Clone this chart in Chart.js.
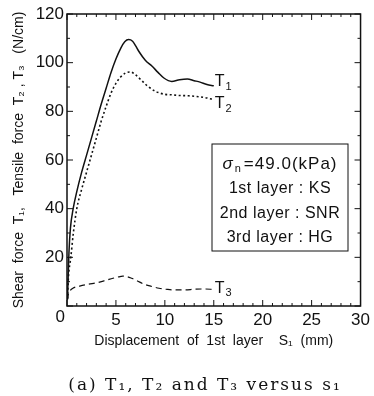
<!DOCTYPE html>
<html lang="en">
<head>
  <meta charset="UTF-8" />
  <title>T1, T2 and T3 versus s1</title>
  <script src="https://cdn.jsdelivr.net/npm/chart.js"></script>
  <style>
    body { margin: 0; background: white; }
    canvas { display: block; }
  </style>
</head>
<body>
  <canvas id="chart" width="374" height="396"></canvas>
  <script>
    // displacement S1 (mm) and force (N/cm)
    const t1X = [0.05, 0.12, 0.2, 0.35, 0.63, 1.0, 1.5, 2.0, 2.5, 3.0, 3.5, 4.0, 4.5, 5.0, 5.5, 5.9, 6.3, 6.7, 7.0, 7.35, 8.0, 8.7, 9.3, 9.9, 10.7, 11.5, 12.3, 13.0, 13.6, 14.3, 15.0];
    const t1Y = [3, 12, 22, 32, 40, 47, 55, 62, 69, 76, 83, 89.5, 96, 101.5, 106, 108.6, 109.5, 108.8, 107, 104.6, 101, 98.5, 96, 93.7, 92.3, 93, 93.3, 92.6, 92, 91, 90.5];
    const t2X = [0.05, 0.15, 0.39, 0.65, 1.0, 1.5, 2.0, 2.5, 3.0, 3.5, 4.0, 4.5, 5.0, 5.5, 6.0, 6.5, 7.0, 7.5, 8.2, 9.05, 10.0, 10.7, 11.5, 12.4, 13.5, 14.3, 15.0];
    const t2Y = [3, 12, 20, 30, 40, 48, 55, 62, 69, 76, 82, 87.5, 91.5, 94.2, 95.8, 96.2, 95, 93.2, 90.5, 88.2, 87, 86.8, 86.5, 86.4, 86, 85.5, 84.8];
    const t3X = [0.05, 0.15, 0.3, 0.6, 1.3, 2.2, 3.0, 4.0, 4.7, 5.3, 5.7, 6.2, 6.6, 7.2, 7.8, 8.6, 9.4, 10.3, 11.1, 12.1, 13.0, 14.0, 15.0];
    const t3Y = [2.5, 5, 6.2, 7.3, 8.2, 9, 9.5, 10.6, 11.4, 12, 12.3, 12, 11.4, 10.3, 9.1, 8.1, 7.3, 6.8, 6.6, 6.6, 6.9, 7, 6.8];

    const seriesNames = ['T1', 'T2', 'T3'];
    const boxLines = ['1st layer : KS', '2nd layer : SNR', '3rd layer : HG'];
    const xTicks = [0, 5, 10, 15, 20, 25, 30];
    const yTicks = [0, 20, 40, 60, 80, 100, 120];

    const pts = (xs, ys) => xs.map((x, i) => ({ x: x, y: ys[i] }));
    const ink = '#111';
    const sans = "'Liberation Sans', Arial, sans-serif";

    // inward ticks on all four sides, plus frame, labels and text box
    const decor = {
      id: 'decor',
      afterDraw(chart) {
        const ctx = chart.ctx;
        const a = chart.chartArea;
        const xs = chart.scales.x, ys = chart.scales.y;
        ctx.save();
        ctx.strokeStyle = ink;
        ctx.lineWidth = 1;
        for (let v = 0; v <= 30; v++) {
          const px = xs.getPixelForValue(v);
          const len = v % 5 === 0 ? 6 : 3;
          ctx.beginPath();
          ctx.moveTo(px, a.bottom); ctx.lineTo(px, a.bottom - len);
          ctx.moveTo(px, a.top); ctx.lineTo(px, a.top + len);
          ctx.stroke();
        }
        for (let v = 0; v <= 120; v += 10) {
          const py = ys.getPixelForValue(v);
          const len = v % 20 === 0 ? 6 : 3;
          ctx.beginPath();
          ctx.moveTo(a.left, py); ctx.lineTo(a.left + len, py);
          ctx.moveTo(a.right, py); ctx.lineTo(a.right - len, py);
          ctx.stroke();
        }
        ctx.lineWidth = 1.5;
        ctx.strokeRect(a.left, a.top, a.right - a.left, a.bottom - a.top);

        // the shared "0" at the corner
        ctx.fillStyle = ink;
        ctx.font = '17px ' + sans;
        ctx.textAlign = 'right';
        ctx.textBaseline = 'middle';
        ctx.fillText('0', a.left - 2, a.bottom + 11);

        // curve labels next to the last point of each series
        const ends = [[t1X, t1Y, -4], [t2X, t2Y, 4], [t3X, t3Y, -1]];
        ends.forEach((e, i) => {
          const px = xs.getPixelForValue(e[0][e[0].length - 1]) + 1;
          const py = ys.getPixelForValue(e[1][e[1].length - 1]) + e[2];
          ctx.textAlign = 'left';
          ctx.font = '16px ' + sans;
          ctx.fillText('T', px, py);
          const w = ctx.measureText('T').width;
          ctx.font = '11px ' + sans;
          ctx.fillText(seriesNames[i].slice(1), px + w + 1, py + 5);
        });

        // condition box
        const bx = 212, by = 144, bw = 136, bh = 107;
        ctx.fillStyle = 'white';
        ctx.fillRect(bx, by, bw, bh);
        ctx.lineWidth = 1;
        ctx.strokeRect(bx, by, bw, bh);
        ctx.fillStyle = ink;
        const cx = bx + bw / 2;
        const rest = '=49.0(kPa)';
        ctx.letterSpacing = '1px';
        ctx.font = 'italic 17px ' + sans;
        const sw = ctx.measureText('σ').width;
        ctx.font = '11px ' + sans;
        const nw = ctx.measureText('n').width;
        ctx.font = '17px ' + sans;
        const rw = ctx.measureText(rest).width;
        let lx = cx - (sw + nw + 3 + rw) / 2;
        ctx.textAlign = 'left';
        ctx.font = 'italic 17px ' + sans;
        ctx.fillText('σ', lx, 164);
        ctx.font = '11px ' + sans;
        ctx.fillText('n', lx + sw + 1, 169);
        ctx.font = '17px ' + sans;
        ctx.fillText(rest, lx + sw + nw + 3, 164);
        ctx.textAlign = 'center';
        ctx.letterSpacing = '0.5px';
        ctx.font = '16px ' + sans;
        boxLines.forEach((t, i) => ctx.fillText(t, cx, 189 + i * 24.5));

        // caption
        ctx.letterSpacing = '2px';
        ctx.font = "17px 'DejaVu Serif', serif";
        ctx.fillText('(a) T₁, T₂ and T₃ versus s₁', 205, 386);
        ctx.restore();
      }
    };

    const base = { borderColor: ink, pointRadius: 0, fill: false, cubicInterpolationMode: 'monotone' };

    new Chart(document.getElementById('chart'), {
      type: 'line',
      data: {
        datasets: [
          Object.assign({ label: seriesNames[0], data: pts(t1X, t1Y), borderWidth: 1.5 }, base),
          Object.assign({ label: seriesNames[1], data: pts(t2X, t2Y), borderWidth: 1.6, borderDash: [2, 2.5] }, base),
          Object.assign({ label: seriesNames[2], data: pts(t3X, t3Y), borderWidth: 1.2, borderDash: [6, 4] }, base)
        ]
      },
      options: {
        responsive: false,
        animation: false,
        layout: { padding: { top: 14, right: 10, left: 0, bottom: 0 } },
        plugins: { legend: { display: false }, tooltip: { enabled: false } },
        scales: {
          x: {
            type: 'linear', min: 0, max: 30,
            afterBuildTicks: s => { s.ticks = xTicks.map(v => ({ value: v })); },
            afterFit: s => { s.height = 90; },
            grid: { display: false, drawTicks: false },
            border: { display: false },
            ticks: { color: ink, font: { size: 17, family: sans }, padding: 4, maxRotation: 0,
                      callback: v => v === 0 ? '' : v },
            title: { display: true, text: 'Displacement  of  1st  layer    S₁  (mm)', color: ink,
                     font: { size: 14, family: sans }, padding: { bottom: 46 } }
          },
          y: {
            min: 0, max: 120,
            afterBuildTicks: s => { s.ticks = yTicks.map(v => ({ value: v })); },
            afterFit: s => { s.width = 67; },
            grid: { display: false, drawTicks: false },
            border: { display: false },
            ticks: { color: ink, font: { size: 17, family: sans }, padding: 3,
                      callback: v => v === 0 ? '' : v },
            title: { display: true, text: 'Shear  force  T₁,   Tensile  force  T₂ , T₃   (N/cm)', color: ink,
                     font: { size: 14, family: sans }, padding: { top: 11 } }
          }
        }
      },
      plugins: [decor]
    });
  </script>
</body>
</html>
